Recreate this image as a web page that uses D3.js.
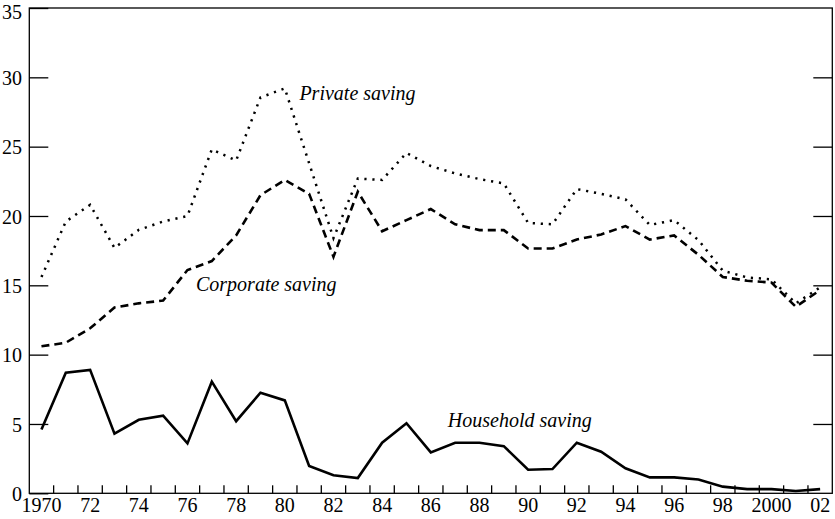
<!DOCTYPE html>
<html><head><meta charset="utf-8">
<script src="https://cdn.jsdelivr.net/npm/d3@7"></script>
<style>html,body{margin:0;padding:0;background:#fff;}</style>
</head><body>
<svg id="c" width="835" height="519"></svg>
<script>
const years = d3.range(1970, 2003);
const household = [4.6,8.7,8.9,4.3,5.3,5.6,3.6,8.05,5.2,7.25,6.7,1.97,1.3,1.1,3.65,5.05,2.95,3.65,3.65,3.4,1.7,1.75,3.65,3.0,1.8,1.15,1.15,1.0,0.48,0.3,0.3,0.17,0.3];
const corporate = [10.6,10.86,11.9,13.4,13.7,13.9,16.1,16.75,18.6,21.5,22.6,21.6,17.06,21.75,18.9,19.7,20.5,19.4,18.98,18.98,17.66,17.66,18.3,18.67,19.27,18.3,18.6,17.2,15.6,15.33,15.2,13.45,14.66];
const privateS = [15.6,19.6,20.8,17.7,19.0,19.6,20.0,24.8,24.0,28.55,29.2,23.8,18.4,22.7,22.6,24.55,23.6,23.07,22.66,22.35,19.5,19.4,21.94,21.6,21.2,19.35,19.7,18.26,16.05,15.57,15.43,13.7,14.85];
const yTicks = [0,5,10,15,20,25,30,35];
const xLabelYears = d3.range(1970, 2003, 2);
const xLabel = y => y === 1970 ? "1970" : y === 2000 ? "2000" : String(y % 100).padStart(2, "0");
const seriesLabels = [
  {text: "Private saving", year: 1980.6, value: 28.35},
  {text: "Corporate saving", year: 1976.35, value: 14.6},
  {text: "Household saving", year: 1986.7, value: 4.8}
];

const L = 29.3, R = 832.3, T = 8, B = 493.3;
const svg = d3.select("#c");
const font = "'Liberation Serif','Times New Roman',serif";

const xb = d3.scaleBand().domain(years).range([L, R]).padding(0);
const xc = y => xb(y) + xb.bandwidth() / 2;
const xLin = d3.scaleLinear().domain([1970, 2002]).range([xc(1970), xc(2002)]);
const y = d3.scaleLinear().domain([0, 35]).range([B, T]);

// frame
svg.append("rect").attr("x", L).attr("y", T).attr("width", R - L).attr("height", B - T)
  .attr("fill", "none").attr("stroke", "#000").attr("stroke-width", 1.3);

// y ticks left (inward) + labels
const yAxisL = d3.axisRight(y).tickValues(yTicks).tickSize(19).tickFormat("");
const gl = svg.append("g").attr("transform", `translate(${L},0)`).call(yAxisL);
gl.select(".domain").remove();
gl.selectAll("line").attr("stroke", "#000").attr("stroke-width", 1.3);
svg.append("g").selectAll("text").data(yTicks).join("text")
  .attr("x", 22).attr("y", d => Math.max(y(d), 11)).attr("dy", "0.38em")
  .attr("text-anchor", "end").attr("font-family", font).attr("font-size", 20)
  .text(d => d);

// y ticks right (inward)
const yAxisR = d3.axisLeft(y).tickValues(yTicks.filter(d => d > 0 && d < 35)).tickSize(19).tickFormat("");
const gr = svg.append("g").attr("transform", `translate(${R},0)`).call(yAxisR);
gr.select(".domain").remove();
gr.selectAll("line").attr("stroke", "#000").attr("stroke-width", 1.3);

// x ticks at band boundaries (inward)
const bounds = years.slice(1);
svg.append("g").selectAll("line").data(bounds).join("line")
  .attr("x1", d => xb(d)).attr("x2", d => xb(d))
  .attr("y1", B).attr("y2", B - 8)
  .attr("stroke", "#000").attr("stroke-width", 1.3);
svg.append("g").selectAll("text").data(xLabelYears).join("text")
  .attr("x", d => xc(d)).attr("y", 512)
  .attr("text-anchor", "middle").attr("font-family", font).attr("font-size", 20)
  .text(xLabel);

const line = d3.line().x((d, i) => xc(years[i])).y(d => y(d));

svg.append("path").datum(privateS).attr("d", line).attr("fill", "none")
  .attr("stroke", "#000").attr("stroke-width", 2.5).attr("stroke-dasharray", "2.2,5.8");
svg.append("path").datum(corporate).attr("d", line).attr("fill", "none")
  .attr("stroke", "#000").attr("stroke-width", 2.6).attr("stroke-dasharray", "8,5");
svg.append("path").datum(household).attr("d", line).attr("fill", "none")
  .attr("stroke", "#000").attr("stroke-width", 2.6).attr("stroke-linejoin", "miter");

svg.append("g").selectAll("text").data(seriesLabels).join("text")
  .attr("x", d => xLin(d.year)).attr("y", d => y(d.value))
  .attr("font-family", font).attr("font-style", "italic").attr("font-size", 20)
  .text(d => d.text);
</script>
</body></html>
